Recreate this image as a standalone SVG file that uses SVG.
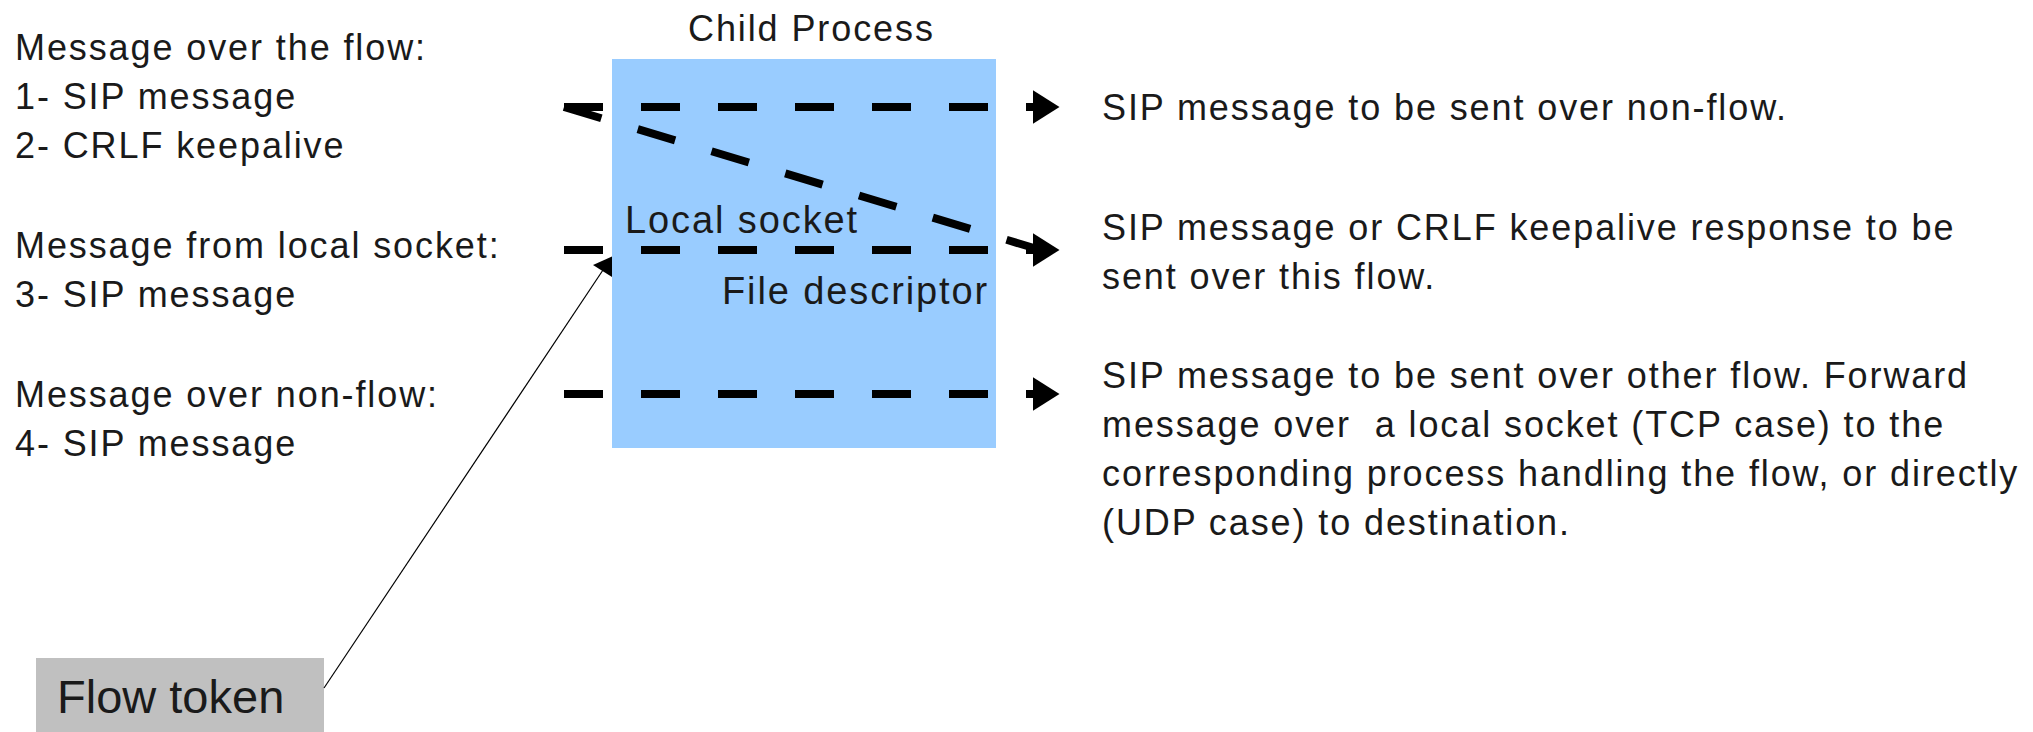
<svg xmlns="http://www.w3.org/2000/svg" width="2033" height="732" viewBox="0 0 2033 732">
  <style>
    .t { font-family: "Liberation Sans", Arial, Helvetica, sans-serif; font-size: 36px; letter-spacing: 1.9px; fill: #1a1a1a; }
    .big { font-size: 38px; }
    .token { font-size: 47px; letter-spacing: 0; }
    .flow { fill: none; stroke: #000; stroke-width: 8; stroke-dasharray: 39 38; }
    .lead { fill: none; stroke: #000; stroke-width: 1.2; }
    .head { fill: #000; }
  </style>
  <defs>
    <marker id="arrow" markerUnits="userSpaceOnUse" viewBox="0 0 26.5 33.4" markerWidth="26.5" markerHeight="33.4" refX="0" refY="16.7" orient="auto">
      <path d="M0,0 L26.5,16.7 L0,33.4 Z" class="head"/>
    </marker>
  </defs>

  <rect width="2033" height="732" fill="#fff"/>

  <!-- incoming message kinds -->
  <g id="inputs">
    <text class="t" x="15" y="60">Message over the flow:</text>
    <text class="t" x="15" y="109">1- SIP message</text>
    <text class="t" x="15" y="158">2- CRLF keepalive</text>
    <text class="t" x="15" y="258">Message from local socket:</text>
    <text class="t" x="15" y="307">3- SIP message</text>
    <text class="t" x="15" y="407">Message over non-flow:</text>
    <text class="t" x="15" y="456">4- SIP message</text>
  </g>

  <!-- the child process box -->
  <g id="child-process">
    <text class="t" x="688" y="41">Child Process</text>
    <rect x="612" y="59" width="384" height="389" fill="#99ccff"/>
    <text class="t big" x="625" y="233">Local socket</text>
    <text class="t big" x="722" y="304">File descriptor</text>
  </g>

  <!-- flow token -->
  <g id="flow-token">
    <rect x="36" y="658" width="288" height="74" fill="#c0c0c0"/>
    <text class="t token" x="57" y="713">Flow token</text>
  </g>

  <!-- outgoing results -->
  <g id="out-nonflow">
    <text class="t" x="1102" y="120">SIP message to be sent over non-flow.</text>
  </g>
  <g id="out-thisflow">
    <text class="t" x="1102" y="240">SIP message or CRLF keepalive response to be</text>
    <text class="t" x="1102" y="289">sent over this flow.</text>
  </g>
  <g id="out-otherflow">
    <text class="t" x="1102" y="388">SIP message to be sent over other flow. Forward</text>
    <text class="t" x="1102" y="437" xml:space="preserve">message over  a local socket (TCP case) to the</text>
    <text class="t" x="1102" y="486">corresponding process handling the flow, or directly</text>
    <text class="t" x="1102" y="535">(UDP case) to destination.</text>
  </g>

  <!-- message paths through the process -->
  <g id="connectors">
    <line class="flow" x1="564" y1="107" x2="1033" y2="107" marker-end="url(#arrow)"/>
    <line class="flow" x1="564" y1="250" x2="1033" y2="250" marker-end="url(#arrow)"/>
    <line class="flow" x1="564" y1="394" x2="1033" y2="394" marker-end="url(#arrow)"/>
    <line class="flow" x1="564" y1="107" x2="1034" y2="248"/>
    <line class="lead" x1="324" y1="688" x2="603" y2="270"/>
    <polygon class="head" points="593,265 612,256.5 612,277"/>
  </g>
</svg>
